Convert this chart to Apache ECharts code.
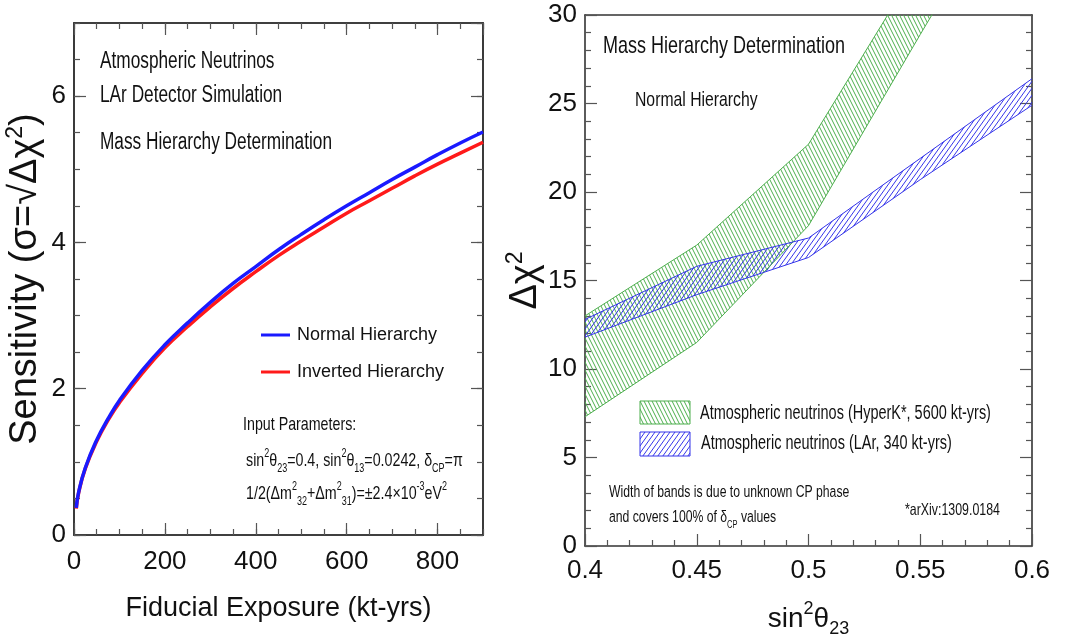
<!DOCTYPE html>
<html>
<head>
<meta charset="utf-8">
<script src="https://cdn.jsdelivr.net/npm/echarts@6/dist/echarts.min.js"></script>
<style>
html,body{margin:0;padding:0;background:#fff;}
#chart{width:1065px;height:643px;}
</style>
</head>
<body>
<div id="chart"></div>
<script>
// ---- Left panel data: sensitivity vs fiducial exposure ----
const exposure = [5, 10, 25, 50, 75, 100, 150, 200, 250, 300, 350, 400, 450, 500, 550, 600, 650, 700, 750, 800, 850, 900];
const sensNormal = [0.37, 0.58, 0.92, 1.3, 1.59, 1.84, 2.25, 2.6, 2.9, 3.18, 3.44, 3.67, 3.9, 4.11, 4.31, 4.5, 4.68, 4.86, 5.03, 5.2, 5.36, 5.51];
const sensInverted = [0.36, 0.57, 0.91, 1.28, 1.57, 1.81, 2.21, 2.56, 2.85, 3.12, 3.37, 3.6, 3.82, 4.02, 4.21, 4.4, 4.57, 4.74, 4.91, 5.07, 5.22, 5.37];
const leftSeriesNames = ['Normal Hierarchy', 'Inverted Hierarchy'];

// ---- Right panel data: delta chi^2 bands vs sin^2(theta23) ----
const sin2theta23 = [0.4, 0.45, 0.5, 0.55, 0.6];
const hyperKLow = [7.3, 11.5, 18.1, 28.9, 39.5];
const hyperKHigh = [13.0, 17.0, 22.7, 33.0, 43.5];
const larLow = [11.8, 14.2, 16.3, 20.7, 24.9];
const larHigh = [12.8, 15.8, 17.4, 21.9, 26.4];
const rightSeriesNames = ['Atmospheric neutrinos (HyperK*, 5600 kt-yrs)', 'Atmospheric neutrinos (LAr, 340 kt-yrs)'];

const FONT = "'Liberation Sans', Arial, Helvetica, sans-serif";
const GREEN = '#4dae4d';
const BLUE = '#3535ea';
const SX = 0.75; // horizontal condensation of annotation text

function hatch(color, w, h, dir) {
  const c = document.createElement('canvas');
  c.width = w; c.height = h;
  const g = c.getContext('2d');
  g.strokeStyle = color; g.lineWidth = 1;
  for (const dx of [-w, 0, w]) {
    g.beginPath();
    if (dir > 0) { g.moveTo(dx, h); g.lineTo(dx + w, 0); }
    else { g.moveTo(dx, 0); g.lineTo(dx + w, h); }
    g.stroke();
  }
  return c;
}
const greenPattern = { image: hatch(GREEN, 4, 8, -1), repeat: 'repeat' };
const bluePattern = { image: hatch(BLUE, 5, 7, 1), repeat: 'repeat' };

function bandRenderer(pattern) {
  return function (params, api) {
    if (params.dataIndexInside !== 0) return null;
    const n = params.dataInsideLength;
    const lo = [], hi = [];
    for (let j = 0; j < n; j++) {
      lo.push(api.coord([api.value(0, j), api.value(1, j)]));
      hi.push(api.coord([api.value(0, j), api.value(2, j)]));
    }
    const cs = params.coordSys;
    return {
      type: 'polygon',
      shape: { points: lo.concat(hi.reverse()) },
      style: { fill: pattern, stroke: null },
      clipPath: { type: 'rect', shape: { x: cs.x, y: cs.y, width: cs.width, height: cs.height } }
    };
  };
}

const tickLine = { color: '#555', width: 1.2 };
const frameLine = { show: true, onZero: false, lineStyle: { color: '#333', width: 1.6 } };
const noLabel = { show: false };
const TICKFS = 26;

function leftX(pos, interval, len, labels) {
  return {
    type: 'value', gridIndex: 0, position: pos, min: 0, max: 900, interval: interval,
    axisLine: frameLine, splitLine: { show: false },
    axisTick: { show: true, inside: true, length: len, lineStyle: tickLine },
    axisLabel: labels ? {
      show: true, fontFamily: FONT, fontSize: TICKFS, color: '#111', margin: 14, showMaxLabel: false,
      formatter: v => (v % 200 === 0 ? String(v) : '')
    } : noLabel
  };
}
function leftY(pos, interval, len, labels) {
  return {
    type: 'value', gridIndex: 0, position: pos, min: 0, max: 7, interval: interval,
    axisLine: frameLine, splitLine: { show: false },
    axisTick: { show: true, inside: true, length: len, lineStyle: tickLine },
    axisLabel: labels ? {
      show: true, fontFamily: FONT, fontSize: TICKFS, color: '#111', margin: 8, showMaxLabel: false,
      formatter: v => (v % 2 === 0 ? String(v) : '')
    } : noLabel
  };
}

const xAxes = [
  leftX('bottom', 50, 6, false),
  Object.assign(leftX('bottom', 200, 12, true), {
    name: 'Fiducial Exposure (kt-yrs)', nameLocation: 'middle', nameGap: 60,
    nameTextStyle: { fontFamily: FONT, fontSize: 27, color: '#111' }
  }),
  leftX('top', 50, 6, false),
  leftX('top', 200, 12, false),
  {
    type: 'value', gridIndex: 1, position: 'bottom', min: 0.4, max: 0.6, interval: 0.05,
    axisLine: frameLine, splitLine: { show: false },
    axisTick: { show: true, inside: true, length: 12, lineStyle: tickLine },
    minorTick: { show: true, splitNumber: 5, length: 6, lineStyle: tickLine },
    axisLabel: { show: true, fontFamily: FONT, fontSize: TICKFS, color: '#111', margin: 12 },
    name: 'sin{sup|2}θ{sub|23}', nameLocation: 'middle', nameGap: 54,
    nameTextStyle: {
      fontFamily: FONT, fontSize: 28, color: '#111',
      rich: {
        sup: { fontFamily: FONT, fontSize: 18, verticalAlign: 'top', lineHeight: 38, color: '#111' },
        sub: { fontFamily: FONT, fontSize: 18, verticalAlign: 'bottom', lineHeight: 38, color: '#111' }
      }
    }
  },
  {
    type: 'value', gridIndex: 1, position: 'top', min: 0.4, max: 0.6, interval: 0.05,
    axisLine: frameLine, splitLine: { show: false }, axisTick: { show: false }, axisLabel: noLabel
  }
];

const yAxes = [
  leftY('left', 0.5, 6, false),
  Object.assign(leftY('left', 2, 12, true), {
    name: 'Sensitivity (σ=√Δχ{sup|2})', nameLocation: 'middle', nameGap: 27,
    nameTextStyle: {
      fontFamily: FONT, fontSize: 38, color: '#111',
      rich: { sup: { fontFamily: FONT, fontSize: 23, verticalAlign: 'top', lineHeight: 43, color: '#111' } }
    }
  }),
  leftY('right', 0.5, 6, false),
  leftY('right', 2, 12, false),
  {
    type: 'value', gridIndex: 1, position: 'left', min: 0, max: 30, interval: 5,
    axisLine: frameLine, splitLine: { show: false },
    axisTick: { show: true, inside: true, length: 12, lineStyle: tickLine },
    minorTick: { show: true, splitNumber: 5, length: 6, lineStyle: tickLine },
    axisLabel: { show: true, fontFamily: FONT, fontSize: TICKFS, color: '#111', margin: 8 },
    name: 'Δχ{sup|2}', nameLocation: 'middle', nameGap: 22,
    nameTextStyle: {
      fontFamily: FONT, fontSize: 38, color: '#111',
      rich: { sup: { fontFamily: FONT, fontSize: 23, verticalAlign: 'top', lineHeight: 42, color: '#111' } }
    }
  },
  {
    type: 'value', gridIndex: 1, position: 'right', min: 0, max: 30, interval: 5,
    axisLine: frameLine, splitLine: { show: false },
    axisTick: { show: true, inside: true, length: 12, lineStyle: tickLine },
    minorTick: { show: true, splitNumber: 5, length: 6, lineStyle: tickLine },
    axisLabel: noLabel
  }
];

function supSub(fs, lh) {
  return {
    sup: { fontFamily: FONT, fontSize: fs, verticalAlign: 'top', lineHeight: lh, fill: '#111' },
    sub: { fontFamily: FONT, fontSize: fs, verticalAlign: 'bottom', lineHeight: lh, fill: '#111' }
  };
}

function txt(x, y, text, size, rich) {
  return {
    type: 'text', x: x, y: y, scaleX: SX, silent: true,
    style: {
      text: text, fontFamily: FONT, fontSize: size, fill: '#111',
      verticalAlign: 'middle', align: 'left', rich: rich
    }
  };
}

const option = {
  backgroundColor: '#fff',
  animation: false,
  grid: [
    { left: 74, top: 23, width: 409, height: 512, containLabel: false },
    { left: 585, top: 15, width: 447, height: 533, containLabel: false }
  ],
  xAxis: xAxes,
  yAxis: yAxes,
  legend: {
    left: 256, top: 321, orient: 'vertical', itemGap: 19, itemWidth: 29, itemHeight: 3,
    icon: 'rect', selectedMode: false,
    textStyle: { fontFamily: FONT, fontSize: 18, color: '#111', padding: [0, 0, 0, 2] },
    data: leftSeriesNames
  },
  series: [
    {
      name: leftSeriesNames[1], type: 'line', xAxisIndex: 1, yAxisIndex: 1,
      data: exposure.map((x, i) => [x, sensInverted[i]]),
      showSymbol: false, smooth: true, silent: true,
      lineStyle: { color: '#ff1a1a', width: 3.5 }, itemStyle: { color: '#ff1a1a' }
    },
    {
      name: leftSeriesNames[0], type: 'line', xAxisIndex: 1, yAxisIndex: 1,
      data: exposure.map((x, i) => [x, sensNormal[i]]),
      showSymbol: false, smooth: true, silent: true,
      lineStyle: { color: '#1a1aff', width: 3.5 }, itemStyle: { color: '#1a1aff' }
    },
    {
      name: rightSeriesNames[0], type: 'custom', xAxisIndex: 4, yAxisIndex: 4, clip: true, silent: true,
      data: sin2theta23.map((x, i) => [x, hyperKLow[i], hyperKHigh[i]]),
      encode: { x: 0, y: [1, 2] },
      renderItem: bandRenderer(greenPattern)
    },
    {
      name: rightSeriesNames[1], type: 'custom', xAxisIndex: 4, yAxisIndex: 4, clip: true, silent: true,
      data: sin2theta23.map((x, i) => [x, larLow[i], larHigh[i]]),
      encode: { x: 0, y: [1, 2] },
      renderItem: bandRenderer(bluePattern)
    },
    ...[[hyperKLow, GREEN], [hyperKHigh, GREEN], [larLow, BLUE], [larHigh, BLUE]].map(([arr, col]) => ({
      type: 'line', xAxisIndex: 4, yAxisIndex: 4, silent: true, showSymbol: false,
      data: sin2theta23.map((x, i) => [x, arr[i]]),
      lineStyle: { color: col, width: 1 }
    }))
  ],
  graphic: [
    txt(100, 62, 'Atmospheric Neutrinos', 23),
    txt(100, 96, 'LAr Detector Simulation', 23),
    txt(100, 143, 'Mass Hierarchy Determination', 23),
    txt(243, 425, 'Input Parameters:', 19),
    txt(246, 461, 'sin{sup|2}θ{sub|23}=0.4, sin{sup|2}θ{sub|13}=0.0242, δ{sub|CP}=π', 19, supSub(12, 27)),
    txt(246, 494, '1/2(Δm{sup|2}{sub|32}+Δm{sup|2}{sub|31})=±2.4×10{sup|-3}eV{sup|2}', 19, supSub(12, 27)),
    txt(603, 46, 'Mass Hierarchy Determination', 24),
    txt(635, 100, 'Normal Hierarchy', 21),
    {
      type: 'rect', x: 640, y: 401, shape: { width: 50, height: 23 }, silent: true,
      style: { fill: greenPattern, stroke: GREEN, lineWidth: 1 }
    },
    {
      type: 'rect', x: 640, y: 432, shape: { width: 50, height: 24 }, silent: true,
      style: { fill: bluePattern, stroke: BLUE, lineWidth: 1 }
    },
    txt(700, 414, rightSeriesNames[0], 19.3),
    txt(701, 444, rightSeriesNames[1], 19.3),
    txt(609, 493, 'Width of bands is due to unknown CP phase', 16.3),
    txt(609, 518, 'and covers 100% of δ{sub|CP} values', 16.3, {
      sub: { fontFamily: FONT, fontSize: 10, verticalAlign: 'bottom', lineHeight: 24, fill: '#111' }
    }),
    txt(905, 510, '*arXiv:1309.0184', 16.5)
  ]
};

const chart = echarts.init(document.getElementById('chart'), null, { renderer: 'canvas' });
chart.setOption(option);
</script>
</body>
</html>
